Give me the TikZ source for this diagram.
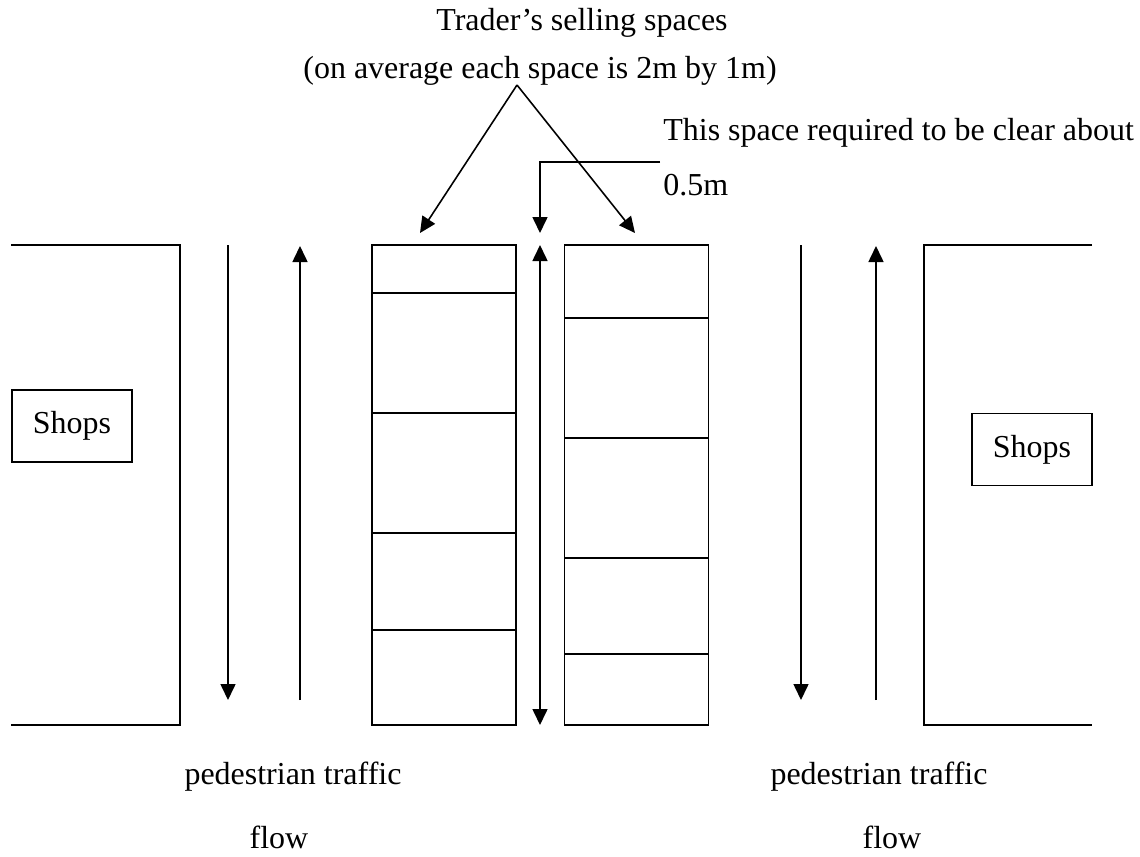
\documentclass[tikz,border=0pt]{standalone}
\usepackage{fontspec}
\setmainfont{Liberation Serif}
\usetikzlibrary{positioning,arrows.meta}

\tikzset{
  wall/.style={line width=1.1pt},
  stall/.style={draw, line width=1.1pt, minimum width=2.88cm, minimum height=9.6cm, inner sep=0pt},
  shopbox/.style={draw, line width=1.1pt, minimum width=2.4cm, minimum height=1.44cm, inner sep=0pt},
  lbl/.style={inner sep=0pt},
  flow/.style={line width=0.9pt, -{Triangle[length=0.32cm,width=0.3cm]}},
  twoway/.style={line width=0.9pt, {Triangle[length=0.32cm,width=0.3cm]}-{Triangle[length=0.32cm,width=0.3cm]}},
}

\begin{document}
\begin{tikzpicture}[x=0.02cm, y=-0.02cm, font=\fontsize{18.2}{22}\selectfont]
\useasboundingbox (0,0) rectangle (1140,856);

  % shop fronts
  \draw[wall] (11,245) -- (180,245) -- (180,725) -- (11,725);
  \draw[wall] (1092,245) -- (924,245) -- (924,725) -- (1092,725);
  \node[shopbox] (shops-l) at (72,426) {Shops}; %
  \node[shopbox] (shops-r) at (1032,449.5) {Shops}; %

  % the two rows of selling spaces
  \node[stall] (stall-l) at (444,485) {}; %
  \node[stall] (stall-r) at (636.5,485) {}; %
  \foreach \y in {293,413,533,630}
    \draw[wall] (372,\y) -- (516,\y);
  \foreach \y in {318,438,558,654}
    \draw[wall] (564,\y) -- (709,\y);

  % walkways
  \draw[flow] (228,245) -- (228,700);
  \draw[flow] (300,700) -- (300,246);
  \draw[flow] (801,245) -- (801,700);
  \draw[flow] (876,700) -- (876,246);
  \draw[twoway] (540,245) -- (540,725);

  % labels
  \node[lbl] (title) at (582,23) {Trader's selling spaces}; %
  \node[lbl] (avg) at (540,71) {(on average each space is 2m by 1m)}; %
  \coordinate (apex) at (517,85);
  \coordinate (tip-l) at (420,233);
  \coordinate (tip-r) at (635,233);
  \draw[flow] (apex) -- (tip-l);
  \draw[flow] (apex) -- (tip-r);

  \node[lbl, anchor=west] (clear) at (663,133) {This space required to be clear about}; %
  \node[lbl, anchor=west] (clear-val) at (663,185) {0.5m}; %
  \coordinate (leader) at (660,162);
  \coordinate (gap) at (540,233);
  \draw[flow] (leader) -| (gap);

  \node[lbl] (ped-l) at (293,777) {pedestrian traffic}; %
  \node[lbl] (flow-l) at (279,837) {flow}; %
  \node[lbl] (ped-r) at (879,777) {pedestrian traffic}; %
  \node[lbl] (flow-r) at (892,837) {flow}; %

\end{tikzpicture}
\end{document}
